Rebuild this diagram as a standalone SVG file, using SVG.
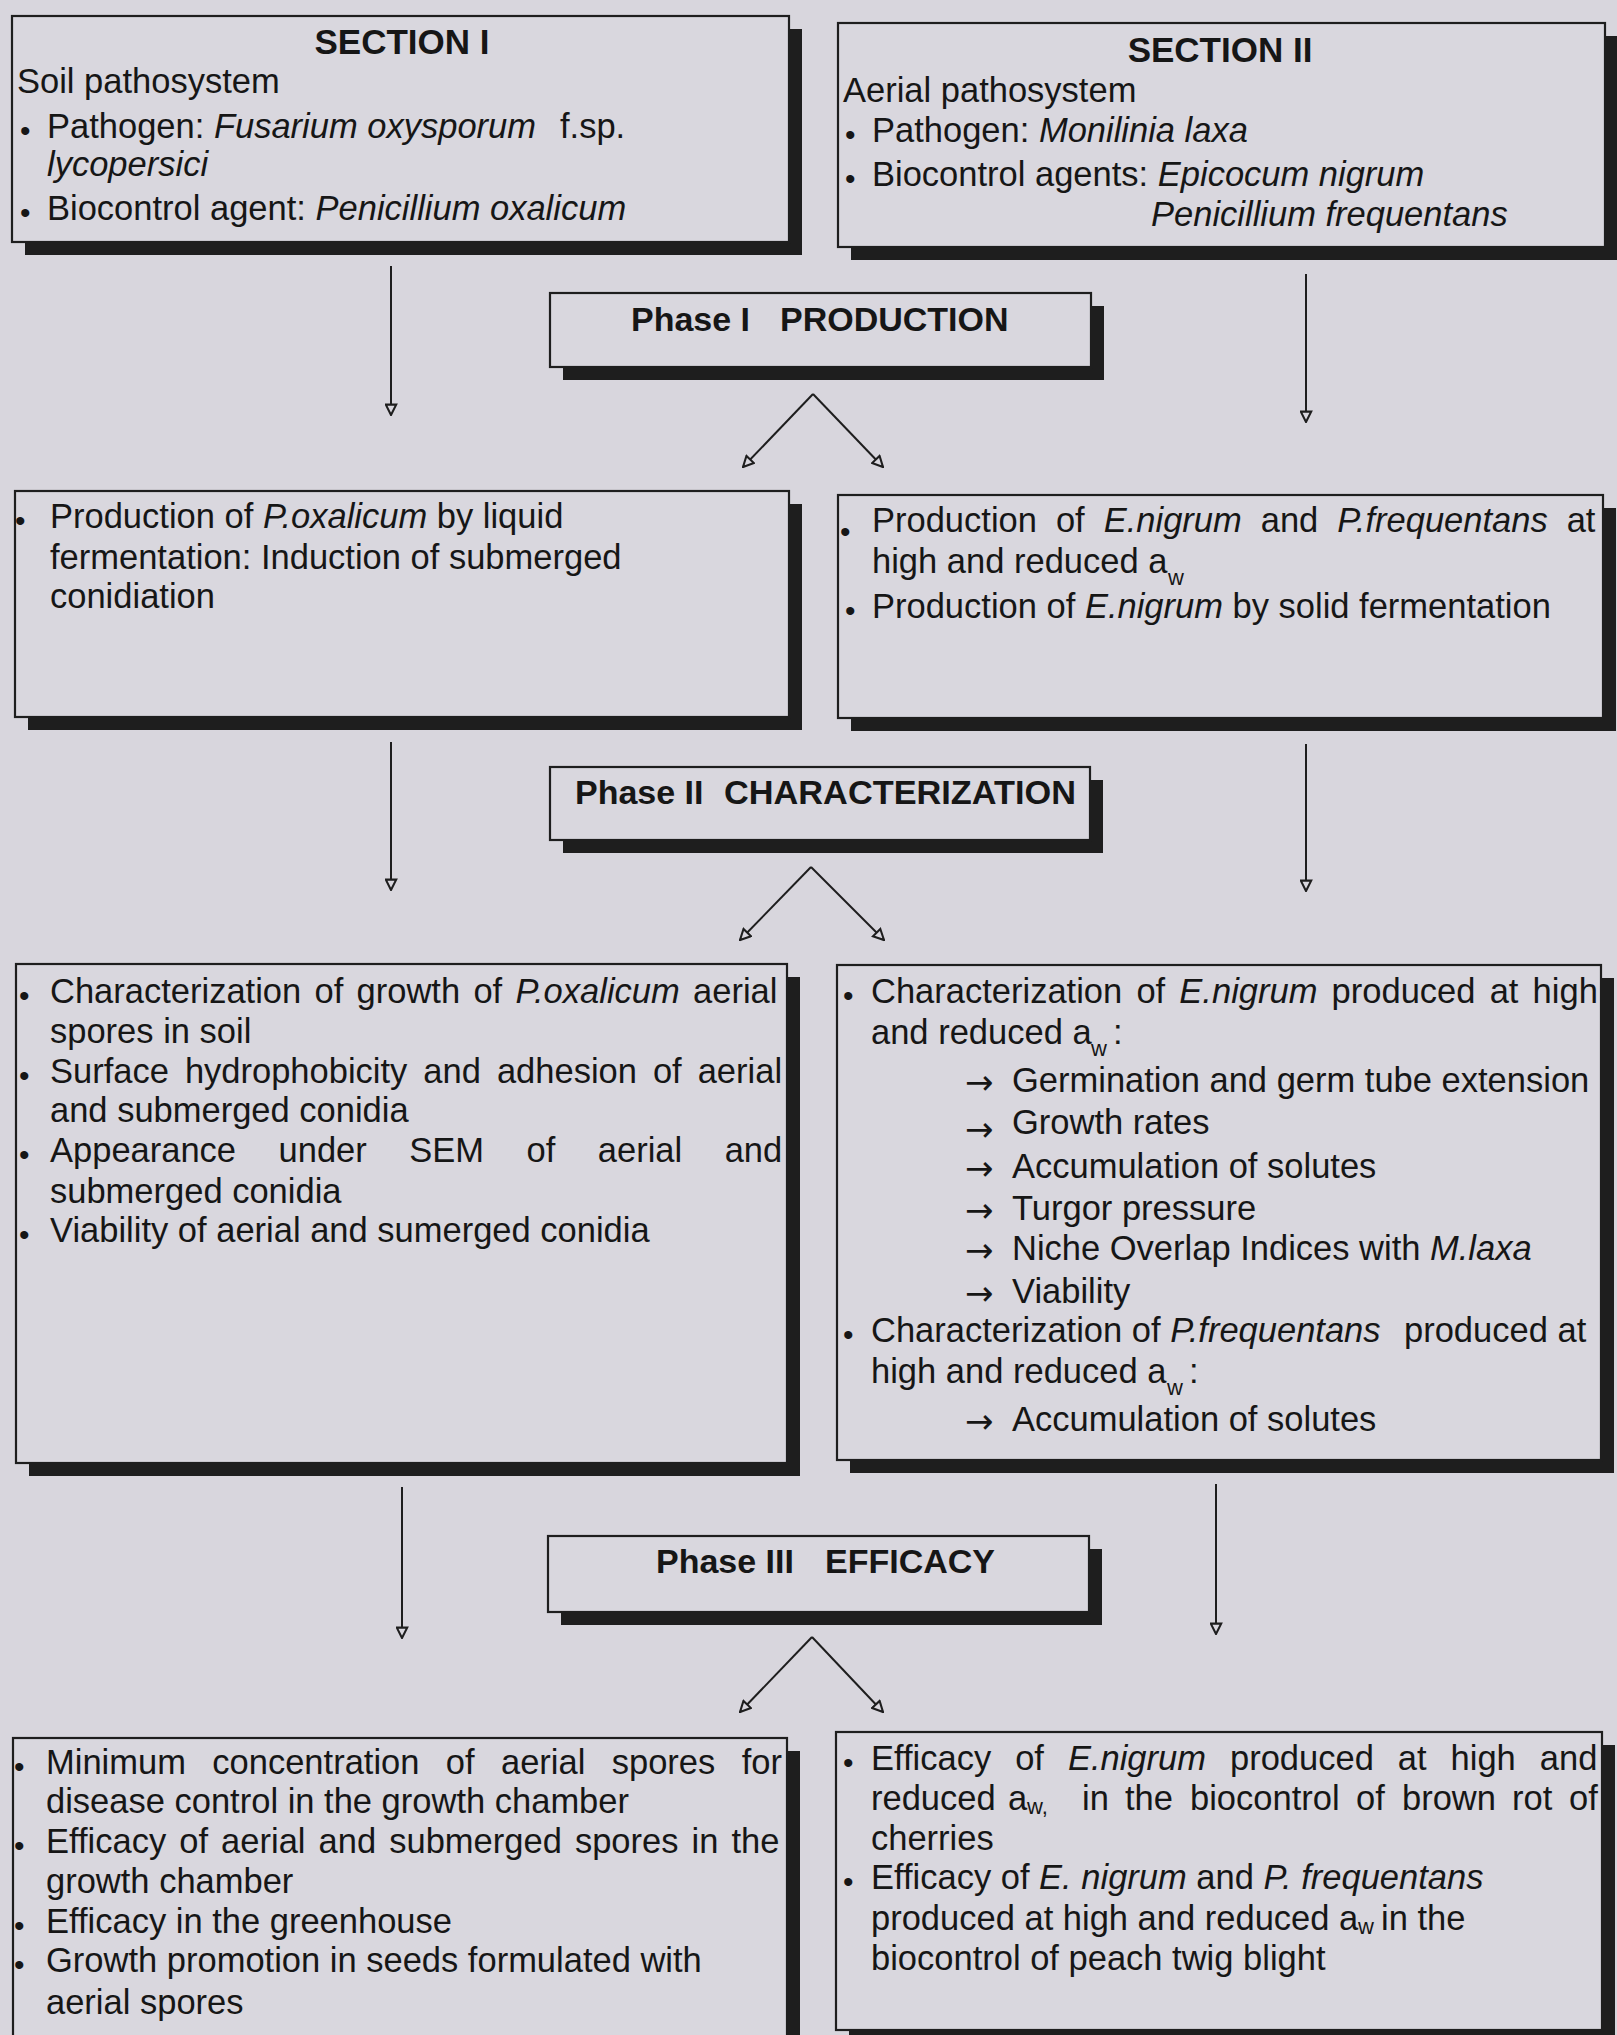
<svg xmlns="http://www.w3.org/2000/svg" width="1617" height="2035" viewBox="0 0 1617 2035">
<style>
.t{font-family:"Liberation Sans",Arial,"DejaVu Sans",sans-serif;font-size:34.5px;fill:#161616}
.b{font-weight:bold;font-size:34px}
.h{font-weight:bold;font-size:35px}
.i{font-style:italic}
.bul{font-size:30px}
.sub{font-size:22px}
.arr{font-family:"DejaVu Sans",sans-serif;font-size:34px}
.box{fill:#d9d7de;stroke:#1e1e1e;stroke-width:2.2}
.sh{fill:#1e1e1e}
.cn{stroke:#1e1e1e;stroke-width:2;fill:none;marker-end:url(#ah)}
</style>
<defs>
<marker id="ah" viewBox="0 0 10 10" refX="9" refY="5" markerWidth="13" markerHeight="13" markerUnits="userSpaceOnUse" orient="auto">
<path d="M1,1 L9,5 L1,9 z" fill="#d9d7de" stroke="#1e1e1e" stroke-width="1.6"/>
</marker>
</defs>
<rect x="0" y="0" width="1617" height="2035" fill="#d8d6dd"/>

<g id="connectors">
<line class="cn" x1="391" y1="266" x2="391" y2="415"/>
<line class="cn" x1="1306" y1="274" x2="1306" y2="422"/>
<line class="cn" x1="813" y1="394" x2="743" y2="467"/>
<line class="cn" x1="813" y1="394" x2="883" y2="467"/>
<line class="cn" x1="391" y1="742" x2="391" y2="890"/>
<line class="cn" x1="1306" y1="744" x2="1306" y2="891"/>
<line class="cn" x1="811" y1="867" x2="740" y2="940"/>
<line class="cn" x1="811" y1="867" x2="884" y2="940"/>
<line class="cn" x1="402" y1="1487" x2="402" y2="1638"/>
<line class="cn" x1="1216" y1="1484" x2="1216" y2="1634"/>
<line class="cn" x1="812" y1="1637" x2="740" y2="1712"/>
<line class="cn" x1="812" y1="1637" x2="883" y2="1712"/>
</g>

<g id="section1">
<rect class="sh" x="25" y="29" width="777" height="226"/>
<rect class="box" x="12" y="16" width="777" height="226"/>
<text class="t h" x="402" y="54" text-anchor="middle">SECTION I</text>
<text class="t" x="17" y="93">Soil pathosystem</text>
<text class="t bul" x="20" y="141">•</text>
<text class="t" x="47" y="138">Pathogen: <tspan class="i">Fusarium oxysporum</tspan></text>
<text class="t" x="560" y="138">f.sp.</text>
<text class="t i" x="47" y="176">lycopersici</text>
<text class="t bul" x="20" y="223">•</text>
<text class="t" x="47" y="220">Biocontrol agent: <tspan class="i">Penicillium oxalicum</tspan></text>
</g>

<g id="section2">
<rect class="sh" x="851" y="36" width="767" height="224"/>
<rect class="box" x="838" y="23" width="767" height="224"/>
<text class="t h" x="1220" y="62" text-anchor="middle">SECTION II</text>
<text class="t" x="843" y="102">Aerial pathosystem</text>
<text class="t bul" x="845" y="145">•</text>
<text class="t" x="872" y="142">Pathogen: <tspan class="i">Monilinia laxa</tspan></text>
<text class="t bul" x="845" y="189">•</text>
<text class="t" x="872" y="186">Biocontrol agents: <tspan class="i">Epicocum nigrum</tspan></text>
<text class="t i" x="1151" y="226">Penicillium frequentans</text>
</g>

<g id="phase1">
<rect class="sh" x="563" y="306" width="541" height="74"/>
<rect class="box" x="550" y="293" width="541" height="74"/>
<text class="t b" x="631" y="331">Phase I</text>
<text class="t b" x="780" y="331">PRODUCTION</text>
</g>

<g id="production-soil">
<rect class="sh" x="28" y="504" width="774" height="226"/>
<rect class="box" x="15" y="491" width="774" height="226"/>
<text class="t bul" x="15" y="531">•</text>
<text class="t" x="50" y="528">Production of <tspan class="i">P.oxalicum</tspan> by liquid</text>
<text class="t" x="50" y="569">fermentation: Induction of submerged</text>
<text class="t" x="50" y="608">conidiation</text>
</g>

<g id="production-aerial">
<rect class="sh" x="851" y="508" width="765" height="223"/>
<rect class="box" x="838" y="495" width="765" height="223"/>
<text class="t bul" x="840" y="542">•</text>
<text class="t" x="872" y="532" word-spacing="9.4">Production of <tspan class="i">E.nigrum</tspan> and <tspan class="i">P.frequentans</tspan> at</text>
<text class="t" x="872" y="573">high and reduced a</text>
<text class="t sub" x="1168" y="585">w</text>
<text class="t bul" x="845" y="621">•</text>
<text class="t" x="872" y="618">Production of <tspan class="i">E.nigrum</tspan> by solid fermentation</text>
</g>

<g id="phase2">
<rect class="sh" x="563" y="780" width="540" height="73"/>
<rect class="box" x="550" y="767" width="540" height="73"/>
<text class="t b" x="575" y="804">Phase II</text>
<text class="t b" x="724" y="804" textLength="352" lengthAdjust="spacingAndGlyphs">CHARACTERIZATION</text>
</g>

<g id="characterization-soil">
<rect class="sh" x="29" y="977" width="771" height="499"/>
<rect class="box" x="16" y="964" width="771" height="499"/>
<text class="t bul" x="19" y="1006">•</text>
<text class="t" x="50" y="1003" word-spacing="3.7">Characterization of growth of <tspan class="i">P.oxalicum</tspan> aerial</text>
<text class="t" x="50" y="1043">spores in soil</text>
<text class="t bul" x="19" y="1086">•</text>
<text class="t" x="50" y="1083" word-spacing="6.4">Surface hydrophobicity and adhesion of aerial</text>
<text class="t" x="50" y="1122">and submerged conidia</text>
<text class="t bul" x="19" y="1165">•</text>
<text class="t" x="50" y="1162" word-spacing="32.9">Appearance under SEM of aerial and</text>
<text class="t" x="50" y="1203">submerged conidia</text>
<text class="t bul" x="19" y="1245">•</text>
<text class="t" x="50" y="1242">Viability of aerial and sumerged conidia</text>
</g>

<g id="characterization-aerial">
<rect class="sh" x="850" y="978" width="764" height="495"/>
<rect class="box" x="837" y="965" width="764" height="495"/>
<text class="t bul" x="843" y="1006">•</text>
<text class="t" x="871" y="1003" word-spacing="4.6">Characterization of <tspan class="i">E.nigrum</tspan> produced at high</text>
<text class="t" x="871" y="1044">and reduced a</text>
<text class="t sub" x="1091" y="1056">w</text>
<text class="t" x="1113" y="1044">:</text>
<text class="t arr" x="965" y="1094">→</text>
<text class="t" x="1012" y="1092">Germination and germ tube extension</text>
<text class="t arr" x="965" y="1141">→</text>
<text class="t" x="1012" y="1134">Growth rates</text>
<text class="t arr" x="965" y="1180">→</text>
<text class="t" x="1012" y="1178">Accumulation of solutes</text>
<text class="t arr" x="965" y="1222">→</text>
<text class="t" x="1012" y="1220">Turgor pressure</text>
<text class="t arr" x="965" y="1262">→</text>
<text class="t" x="1012" y="1260">Niche Overlap Indices with <tspan class="i">M.laxa</tspan></text>
<text class="t arr" x="965" y="1305">→</text>
<text class="t" x="1012" y="1303">Viability</text>
<text class="t bul" x="843" y="1345">•</text>
<text class="t" x="871" y="1342">Characterization of <tspan class="i">P.frequentans</tspan></text>
<text class="t" x="1404" y="1342">produced at</text>
<text class="t" x="871" y="1383">high and reduced a</text>
<text class="t sub" x="1167" y="1395">w</text>
<text class="t" x="1189" y="1383">:</text>
<text class="t arr" x="965" y="1433">→</text>
<text class="t" x="1012" y="1431">Accumulation of solutes</text>
</g>

<g id="phase3">
<rect class="sh" x="561" y="1549" width="541" height="76"/>
<rect class="box" x="548" y="1536" width="541" height="76"/>
<text class="t b" x="656" y="1573">Phase III</text>
<text class="t b" x="825" y="1573">EFFICACY</text>
</g>

<g id="efficacy-soil">
<rect class="sh" x="26" y="1751" width="774" height="320"/>
<rect class="box" x="13" y="1738" width="774" height="320"/>
<text class="t bul" x="14" y="1777">•</text>
<text class="t" x="46" y="1774" word-spacing="16.8">Minimum concentration of aerial spores for</text>
<text class="t" x="46" y="1813">disease control in the growth chamber</text>
<text class="t bul" x="14" y="1856">•</text>
<text class="t" x="46" y="1853" word-spacing="3.5">Efficacy of aerial and submerged spores in the</text>
<text class="t" x="46" y="1893">growth chamber</text>
<text class="t bul" x="14" y="1936">•</text>
<text class="t" x="46" y="1933">Efficacy in the greenhouse</text>
<text class="t bul" x="14" y="1975">•</text>
<text class="t" x="46" y="1972">Growth promotion in seeds formulated with</text>
<text class="t" x="46" y="2014">aerial spores</text>
</g>

<g id="efficacy-aerial">
<rect class="sh" x="849" y="1745" width="766" height="298"/>
<rect class="box" x="836" y="1732" width="766" height="298"/>
<text class="t bul" x="843" y="1773">•</text>
<text class="t" x="871" y="1770" word-spacing="14.4">Efficacy of <tspan class="i">E.nigrum</tspan> produced at high and</text>
<text class="t" x="871" y="1810">reduced</text>
<text class="t" x="1008" y="1810">a</text>
<text class="t sub" x="1027" y="1814">w,</text>
<text class="t" y="1810"><tspan x="1082">in</tspan><tspan x="1125">the</tspan><tspan x="1190">biocontrol</tspan><tspan x="1356">of</tspan><tspan x="1402">brown</tspan><tspan x="1512">rot</tspan><tspan x="1569">of</tspan></text>
<text class="t" x="871" y="1850">cherries</text>
<text class="t bul" x="843" y="1892">•</text>
<text class="t" x="871" y="1889">Efficacy of <tspan class="i">E. nigrum</tspan> and <tspan class="i">P. frequentans</tspan></text>
<text class="t" x="871" y="1930">produced at high and reduced a</text>
<text class="t sub" x="1358" y="1934">w</text>
<text class="t" x="1381" y="1930">in the</text>
<text class="t" x="871" y="1970">biocontrol of peach twig blight</text>
</g>
</svg>
